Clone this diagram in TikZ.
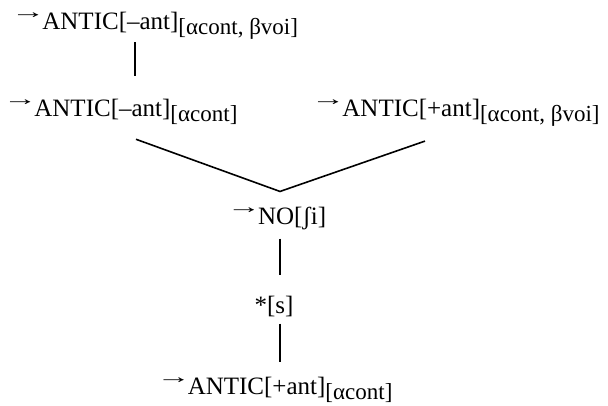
\documentclass[tikz,border=0pt]{standalone}
\usepackage{fontspec}
\setmainfont{Liberation Serif}
\usetikzlibrary{positioning}

\newcommand{\ptr}{\kern-7pt\raisebox{11pt}{\scalebox{1.9}[1.1]{\fontsize{18}{18}\selectfont →}}\kern-3pt}
\newcommand{\lsub}[1]{\raisebox{-5pt}{\fontsize{23}{24}\selectfont #1}}

\begin{document}
\begin{tikzpicture}[x=1pt, y=-1pt,
    form/.style={inner sep=0pt, font=\fontsize{25}{30}\selectfont, anchor=base west},
    link/.style={line width=1.6pt}]
    \useasboundingbox (0,0) rectangle (608,406);

    %% forms
    \node[form] (top) at (18,30) {\ptr ANTIC[–ant]\lsub{[αcont, βvoi]}};
    \node[form] (lft) at (10,117) {\ptr ANTIC[–ant]\lsub{[αcont]}};
    \node[form] (rgt) at (318,117) {\ptr ANTIC[+ant]\lsub{[αcont, βvoi]}};
    \node[form, anchor=base] (no) at (280,225) {\ptr NO[ʃi]};
    \node[form, anchor=base] (star) at (274,313) {*[s]};
    \node[form, anchor=base] (out) at (278,394) {\ptr ANTIC[+ant]\lsub{[αcont]}};

    %% joins
    \coordinate (t1) at ([xshift=117pt,yshift=-2pt]top.south west);
    \coordinate (l1) at ([xshift=126pt,yshift=-14pt]lft.south west);
    \coordinate (r1) at ([xshift=107pt,yshift=-14pt]rgt.south west);
    \coordinate (v) at ([yshift=16pt]no.north);

    \draw[link, shorten >=23pt] (t1) -- (t1 |- lft.north);
    \draw[link] (l1) -- (v) -- (r1);
    \draw[link, shorten <=8pt, shorten >=20pt] (no.south) -- (no.south |- star.north);
    \draw[link, shorten <=7pt, shorten >=14pt] (no.south |- star.south) -- (no.south |- out.north);
\end{tikzpicture}
\end{document}
